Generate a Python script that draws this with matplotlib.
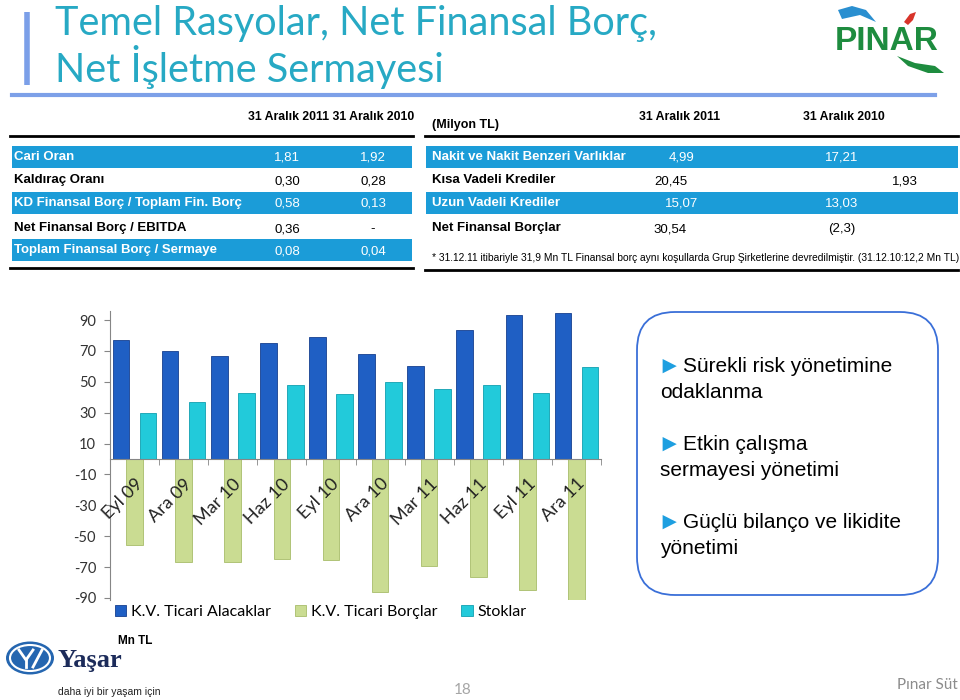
import matplotlib
matplotlib.use('Agg')
import matplotlib.pyplot as plt
from matplotlib.patches import Rectangle, FancyBboxPatch, Ellipse, Polygon

# --- veriler (Mn TL) ---
donemler = ['Eyl 09', 'Ara 09', 'Mar 10', 'Haz 10', 'Eyl 10',
            'Ara 10', 'Mar 11', 'Haz 11', 'Eyl 11', 'Ara 11']
alacaklar = [77, 70, 67, 75, 79, 68, 60.5, 83.5, 93.5, 94.5]
borclar = [-56, -66.5, -67, -64.5, -65.5, -86, -69.5, -76.5, -85, -91]
stoklar = [30, 37, 43, 48, 42, 50, 45.5, 48, 42.5, 59.5]
seri_adlari = ['K.V. Ticari Alacaklar', 'K.V. Ticari Borçlar', 'Stoklar']
y_tikler = [90, 70, 50, 30, 10, -10, -30, -50, -70, -90]

oran_adlari = ['Cari Oran', 'Kaldıraç Oranı', 'KD Finansal Borç / Toplam Fin. Borç',
               'Net Finansal Borç / EBITDA', 'Toplam Finansal Borç / Sermaye']
oran_2011 = ['1,81', '0,30', '0,58', '0,36', '0,08']
oran_2010 = ['1,92', '0,28', '0,13', '-', '0,04']

borc_adlari = ['Nakit ve Nakit Benzeri Varlıklar', 'Kısa Vadeli Krediler',
               'Uzun Vadeli Krediler', 'Net Finansal Borçlar']
borc_2011 = ['4,99', '20,45', '15,07', '30,54']
borc_2010 = ['17,21', '1,93', '13,03', '(2,3)']

maddeler = [('Sürekli risk yönetimine', 'odaklanma'),
            ('Etkin çalışma', 'sermayesi yönetimi'),
            ('Güçlü bilanço ve likidite', 'yönetimi')]

dar = ['Liberation Sans Narrow', 'Liberation Sans', 'DejaVu Sans']
kalibri = ['Lato', 'DejaVu Sans']
arial = ['Liberation Sans', 'DejaVu Sans']
mavi_bant = '#1B9CD8'
tfs = 9.5  # tablo yazi boyu

fig = plt.figure(figsize=(9.6, 7), dpi=100)

# tam sayfa katman, piksel koordinatlari
ov = fig.add_axes([0, 0, 1, 1])
ov.set_xlim(0, 960)
ov.set_ylim(700, 0)
ov.axis('off')

# baslik
ov.plot([27, 27], [12, 85], color='#7B9FE8', lw=4, solid_capstyle='butt')
ov.plot([12, 935], [95, 95], color='#7DA0E8', lw=3)
ov.text(55, 35, 'Temel Rasyolar, Net Finansal Borç,', fontsize=28.5, color='#27A9C4',
        family=kalibri, va='baseline')
ov.text(55, 82, 'Net İşletme Sermayesi', fontsize=28.5, color='#27A9C4',
        family=kalibri, va='baseline')

# PINAR logosu
ov.add_patch(Polygon([(838, 10), (852, 6), (866, 10), (876, 22), (860, 15), (842, 19)],
                     closed=True, fc='#2A8FD0', ec='none'))
ov.add_patch(Polygon([(904, 22), (910, 14), (916, 12), (913, 20), (908, 25)],
                     closed=True, fc='#D8342A', ec='none'))
ov.add_patch(Polygon([(897, 56), (915, 63), (935, 66), (944, 73), (928, 73), (908, 66)],
                     closed=True, fc='#1E8C3F', ec='none'))
ov.text(887, 41, 'PINAR', fontsize=24, fontweight='bold', color='#1E8C3F',
        family=dar, ha='center', va='center')

# sol tablo
ov.text(248, 117, '31 Aralık 2011 31 Aralık 2010', fontsize=8.8, fontweight='bold',
        family=dar, va='center')
ov.plot([10, 413], [136, 136], color='black', lw=2)
ov.plot([10, 413], [268, 268], color='black', lw=2)
satir_y = [157, 180, 203, 228, 250]
for i, (ad, v1, v2) in enumerate(zip(oran_adlari, oran_2011, oran_2010)):
    y = satir_y[i]
    renk = 'black'
    if i % 2 == 0:
        ov.add_patch(Rectangle((12, y - 11.5), 400, 22.5, fc=mavi_bant, ec='none'))
        renk = 'white'
    ov.text(14, y, ad, fontsize=tfs, fontweight='bold', family=dar, color=renk, va='center')
    ov.text(287, y + 1, v1, fontsize=tfs, family=dar, color=renk, va='center', ha='center')
    ov.text(373, y + 1, v2, fontsize=tfs, family=dar, color=renk, va='center', ha='center')

# sag tablo
ov.text(432, 125, '(Milyon TL)', fontsize=9, fontweight='bold', family=dar, va='center')
ov.text(680, 117, '31 Aralık 2011', fontsize=8.8, fontweight='bold', family=dar,
        va='center', ha='center')
ov.text(844, 117, '31 Aralık 2010', fontsize=8.8, fontweight='bold', family=dar,
        va='center', ha='center')
ov.plot([425, 958], [136, 136], color='black', lw=2)
ov.plot([425, 958], [270, 270], color='black', lw=2)
x_2011 = [682, 671, 682, 670]
x_2010 = [842, 905, 842, 842]
for i, (ad, v1, v2) in enumerate(zip(borc_adlari, borc_2011, borc_2010)):
    y = satir_y[i]
    renk = 'black'
    if i % 2 == 0:
        ov.add_patch(Rectangle((426, y - 11.5), 532, 22.5, fc=mavi_bant, ec='none'))
        renk = 'white'
    ov.text(432, y, ad, fontsize=tfs, fontweight='bold', family=dar, color=renk, va='center')
    ov.text(x_2011[i], y + 1, v1, fontsize=tfs, family=dar, color=renk, va='center', ha='center')
    ov.text(x_2010[i], y + 1, v2, fontsize=tfs, family=dar, color=renk, va='center', ha='center')
ov.text(432, 258, '* 31.12.11 itibariyle 31,9 Mn TL Finansal borç aynı koşullarda Grup '
        'Şirketlerine devredilmiştir. (31.12.10:12,2 Mn TL)', fontsize=7.4, family=dar,
        va='center')

# sag kutu
ov.add_patch(FancyBboxPatch((637, 312), 301, 283,
                            boxstyle='round,pad=0,rounding_size=38',
                            fc='white', ec='#3A6FD8', lw=1.3))
for k, (s1, s2) in enumerate(maddeler):
    y0 = 367 + k * 78
    ov.text(657, y0, '►', fontsize=17, color='#1E9FE0', family=arial, va='center')
    ov.text(683, y0, s1, fontsize=15, family=arial, va='center')
    ov.text(660, y0 + 25, s2, fontsize=15, family=arial, va='center')

# alt bilgi
ov.text(118, 641, 'Mn TL', fontsize=8.5, fontweight='bold', family=dar, va='center')
ov.add_patch(Ellipse((30, 658), 48, 33, fc='#2566B0', ec='none'))
ov.add_patch(Ellipse((30, 658), 40, 26, fc='none', ec='white', lw=1.5))
ov.plot([19, 26, 33], [650, 660, 650], color='white', lw=2)
ov.plot([26, 26], [660, 667], color='white', lw=2)
ov.plot([33, 42], [667, 650], color='white', lw=2)
ov.text(58, 661, 'Yaşar', fontsize=19, fontweight='bold', color='#1C2B5A',
        family=['Liberation Serif', 'DejaVu Serif'], va='center')
ov.text(58, 692, 'daha iyi bir yaşam için', fontsize=7.5, family=dar, color='#222222', va='center')
ov.text(463, 690, '18', fontsize=11, color='#A6A6A6', family=kalibri, ha='center', va='center')
ov.text(958, 685, 'Pınar Süt', fontsize=11, color='#8C8C8C', family=kalibri, ha='right', va='center')

# grafik
ax = fig.add_axes([110 / 960, 1 - 600.3 / 700, 491 / 960, 289.5 / 700])
ax.spines['bottom'].set_position(('data', 0))  # once: tikleri sifirlar
x = list(range(len(donemler)))
gen = 0.34
ax.bar([i - 0.275 for i in x], alacaklar, gen, color='#1F5FC4', edgecolor='#163F8F',
       lw=0.6, label=seri_adlari[0], zorder=1)
ax.bar(x, borclar, gen, color='#CADC92', edgecolor='#A8BD6A', lw=0.6,
       label=seri_adlari[1], zorder=1)
ax.bar([i + 0.275 for i in x], stoklar, gen, color='#22CADA', edgecolor='#119FB0',
       lw=0.6, label=seri_adlari[2], zorder=1)

ax.set_xlim(-0.5, len(donemler) - 0.5)
ax.set_ylim(-91.5, 96)
ax.set_yticks(y_tikler)
ax.set_yticklabels([str(v) for v in y_tikler], fontsize=10.5, family=kalibri, color='#333333')
ax.tick_params(axis='y', length=4, color='#868686', pad=6)
ax.set_xticks(x)
ax.set_xticklabels(donemler, rotation=45, ha='right', rotation_mode='anchor',
                   fontsize=13, family=kalibri, color='#222222')
ax.tick_params(axis='x', which='major', length=0, pad=12)
ax.set_xticks([i - 0.5 for i in range(len(donemler) + 1)], minor=True)
ax.tick_params(axis='x', which='minor', length=4, color='#868686')
ax.xaxis.set_zorder(4)
ax.spines['bottom'].set_zorder(4)
for s in ['top', 'right']:
    ax.spines[s].set_visible(False)
ax.spines['left'].set_color('#868686')
ax.spines['bottom'].set_color('#868686')
ax.patch.set_alpha(0)

ax.legend(loc='center left', bbox_to_anchor=(115 / 960, 1 - 612 / 700),
          bbox_transform=fig.transFigure, ncol=3, frameon=False,
          handlelength=0.7, handleheight=0.7, handletextpad=0.3,
          columnspacing=1.5, borderpad=0, borderaxespad=0,
          prop={'family': kalibri, 'size': 11.5})

fig.savefig('out.png', dpi=100)
